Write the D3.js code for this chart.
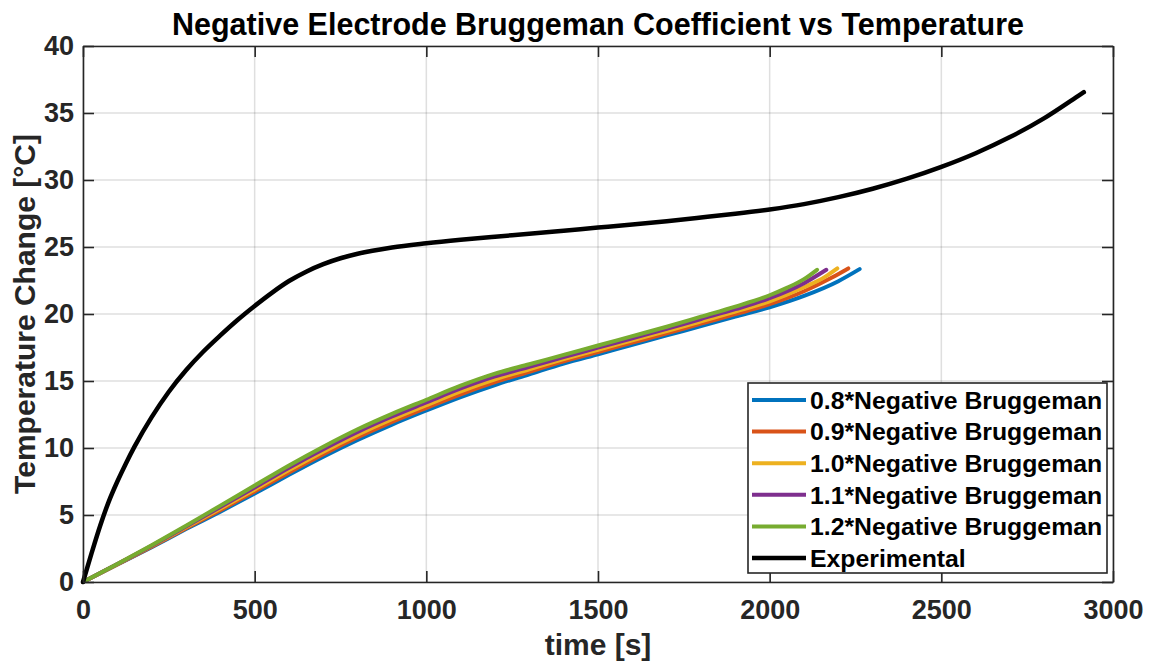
<!DOCTYPE html>
<html>
<head>
<meta charset="utf-8">
<script src="https://cdn.jsdelivr.net/npm/d3@7"></script>
<style>
  html, body { margin: 0; padding: 0; background: #fff; }
  svg { display: block; font-family: "Liberation Sans", Arial, sans-serif; font-weight: bold; }
</style>
</head>
<body>
<svg id="chart" width="1155" height="666"></svg>
<script>
// Simulated temperature rise for scaled negative-electrode Bruggeman coefficients
const time08 = [0,100,200,300,400,500,600,700,800,900,1000,1100,1200,1300,1400,1500,1600,1700,1800,1900,2000,2100,2200,2262];
const temp08 = [0,1.3,2.6,3.95,5.25,6.6,8.0,9.35,10.6,11.75,12.8,13.8,14.7,15.5,16.3,17.0,17.7,18.4,19.1,19.8,20.5,21.35,22.45,23.35];

const time09 = [0,100,200,300,400,500,600,700,800,900,1000,1100,1200,1300,1400,1500,1600,1700,1800,1900,2000,2100,2180,2229];
const temp09 = [0,1.31,2.64,4.01,5.36,6.75,8.18,9.54,10.8,11.95,13.0,14.01,14.91,15.69,16.46,17.16,17.86,18.56,19.28,19.99,20.73,21.7,22.7,23.4];

const time10 = [0,100,200,300,400,500,600,700,800,900,1000,1100,1200,1300,1400,1500,1600,1700,1800,1900,2000,2100,2160,2197];
const temp10 = [0,1.33,2.68,4.08,5.48,6.9,8.35,9.73,11.0,12.15,13.2,14.23,15.13,15.88,16.63,17.33,18.03,18.73,19.45,20.18,20.95,22.0,22.75,23.4];

const time11 = [0,100,200,300,400,500,600,700,800,900,1000,1100,1200,1300,1400,1500,1600,1700,1800,1900,2000,2100,2165];
const temp11 = [0,1.34,2.71,4.14,5.59,7.05,8.53,9.91,11.2,12.35,13.4,14.44,15.34,16.06,16.79,17.49,18.19,18.89,19.63,20.36,21.18,22.3,23.3];

const time12 = [0,100,200,300,400,500,600,700,800,900,1000,1100,1200,1300,1400,1500,1600,1700,1800,1900,2000,2050,2100,2138];
const temp12 = [0,1.35,2.75,4.2,5.7,7.2,8.7,10.1,11.4,12.55,13.6,14.65,15.55,16.25,16.95,17.65,18.35,19.05,19.8,20.55,21.4,21.95,22.6,23.3];

// Measured temperature rise
const expTime = [0,25,50,75,100,125,150,200,250,300,350,400,450,500,550,600,650,700,750,800,900,1000,1100,1200,1300,1400,1500,1600,1700,1800,1900,2000,2100,2200,2300,2400,2500,2600,2700,2800,2900,2915];
const expTemp = [0,2.15,4.2,6.0,7.5,8.85,10.1,12.3,14.2,15.8,17.18,18.4,19.55,20.6,21.58,22.46,23.16,23.72,24.16,24.5,24.97,25.28,25.54,25.77,25.99,26.22,26.45,26.68,26.93,27.2,27.48,27.8,28.2,28.72,29.35,30.1,30.98,32.0,33.2,34.62,36.3,36.55];

const seriesNames = ["0.8*Negative Bruggeman","0.9*Negative Bruggeman","1.0*Negative Bruggeman","1.1*Negative Bruggeman","1.2*Negative Bruggeman","Experimental"];
const seriesColors = ["#0072BD","#D95319","#EDB120","#7E2F8E","#77AC30","#000000"];

const xTicks = [0,500,1000,1500,2000,2500,3000];
const yTicks = [0,5,10,15,20,25,30,35,40];

const titleText = "Negative Electrode Bruggeman Coefficient vs Temperature";
const xLabelText = "time [s]";
const yLabelText = "Temperature Change [°C]";

// ---- layout ----
const svg = d3.select("#chart");
const plotL = 83, plotR = 1113, plotT = 46, plotB = 582;
const axisColor = "#262626";

const x = d3.scaleLinear().domain([0, 3000]).range([plotL, plotR]);
const y = d3.scaleLinear().domain([0, 40]).range([plotB, plotT]);

// grid
const grid = svg.append("g");
grid.selectAll("line.vx").data(xTicks).join("line")
  .attr("x1", d => x(d)).attr("x2", d => x(d)).attr("y1", plotT).attr("y2", plotB)
  .attr("stroke", axisColor).attr("stroke-opacity", 0.15).attr("stroke-width", 1.5);
grid.selectAll("line.hy").data(yTicks).join("line")
  .attr("x1", plotL).attr("x2", plotR).attr("y1", d => y(d)).attr("y2", d => y(d))
  .attr("stroke", axisColor).attr("stroke-opacity", 0.15).attr("stroke-width", 1.5);

// curves
const line = d3.line().x(d => x(d[0])).y(d => y(d[1])).curve(d3.curveMonotoneX);
const allSeries = [
  [time08, temp08], [time09, temp09], [time10, temp10], [time11, temp11], [time12, temp12], [expTime, expTemp]
];
const curves = svg.append("g");
allSeries.forEach(([t, v], i) => {
  curves.append("path")
    .datum(t.map((tt, k) => [tt, v[k]]))
    .attr("d", line)
    .attr("fill", "none")
    .attr("stroke", seriesColors[i])
    .attr("stroke-width", i === 5 ? 4.5 : 4)
    .attr("stroke-linejoin", "round")
    .attr("stroke-linecap", "round");
});

// axes (box with inward ticks on all sides)
const tickLen = 11;
const fmt = d3.format("d");
const axB = svg.append("g").attr("transform", `translate(0,${plotB})`)
  .call(d3.axisBottom(x).tickValues(xTicks).tickSizeInner(-tickLen).tickSizeOuter(0).tickPadding(18).tickFormat(fmt));
const axT = svg.append("g").attr("transform", `translate(0,${plotT})`)
  .call(d3.axisTop(x).tickValues(xTicks).tickSizeInner(-tickLen).tickSizeOuter(0).tickFormat(""));
const axL = svg.append("g").attr("transform", `translate(${plotL},0)`)
  .call(d3.axisLeft(y).tickValues(yTicks).tickSizeInner(-tickLen).tickSizeOuter(0).tickPadding(9).tickFormat(fmt));
const axR = svg.append("g").attr("transform", `translate(${plotR},0)`)
  .call(d3.axisRight(y).tickValues(yTicks).tickSizeInner(-tickLen).tickSizeOuter(0).tickFormat(""));

[axB, axT, axL, axR].forEach(g => {
  g.select(".domain").attr("stroke", axisColor).attr("stroke-width", 1.6);
  g.selectAll(".tick line").attr("stroke", axisColor).attr("stroke-width", 1.6);
  g.selectAll(".tick text").attr("fill", axisColor)
    .attr("font-family", "'Liberation Sans', Arial, sans-serif")
    .attr("font-weight", "bold").attr("font-size", 27);
});

// title and axis labels
svg.append("text").attr("x", (plotL + plotR) / 2).attr("y", 35)
  .attr("text-anchor", "middle").attr("font-size", 30.5).attr("fill", "#000")
  .text(titleText);
svg.append("text").attr("x", (plotL + plotR) / 2).attr("y", 655)
  .attr("text-anchor", "middle").attr("font-size", 30).attr("fill", axisColor)
  .text(xLabelText);
svg.append("text")
  .attr("transform", `translate(35,${(plotT + plotB) / 2}) rotate(-90)`)
  .attr("text-anchor", "middle").attr("font-size", 30).attr("fill", axisColor)
  .text(yLabelText);

// legend
const lg = svg.append("g");
const lgX0 = 748, lgY0 = 383, lgW = 359, lgH = 190, rowH = 31.6, rowY0 = 400;
lg.append("rect").attr("x", lgX0).attr("y", lgY0).attr("width", lgW).attr("height", lgH)
  .attr("fill", "#fff").attr("stroke", axisColor).attr("stroke-width", 1.6);
seriesNames.forEach((name, i) => {
  const cy = rowY0 + i * rowH;
  lg.append("line").attr("x1", 752).attr("x2", 806).attr("y1", cy).attr("y2", cy)
    .attr("stroke", seriesColors[i]).attr("stroke-width", i === 5 ? 4.5 : 4);
  lg.append("text").attr("x", 810).attr("y", cy + 8.8)
    .attr("font-size", 24.8).attr("fill", "#000").text(name);
});
</script>
</body>
</html>
